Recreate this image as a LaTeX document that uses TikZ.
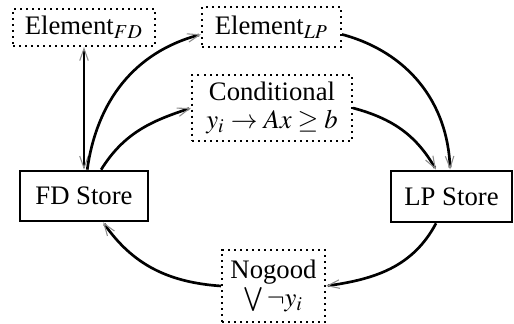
\documentclass[tikz,border=0pt]{standalone}
\usepackage{mathptmx}
\usepackage{fontspec}
\setmainfont{Liberation Serif}
\usetikzlibrary{arrows.meta}
\newlength\pxu
\setlength\pxu{0.3745pt}
\begin{document}
\begin{tikzpicture}[x=0.3745pt,y=-0.3745pt,
  font=\fontsize{10}{10.5}\selectfont,
  store/.style={draw, line width=1pt, inner sep=0pt},
  info/.style={draw, line width=0.75pt, dash pattern=on 0.75pt off 1.5pt, inner sep=0pt, align=center},
  tip/.style={-{Straight Barb[length=4.5pt,width=3.2pt,line width=0.4pt,color=black!45]}},
  link/.style={line width=1pt, tip}
]
\useasboundingbox (0,0) rectangle (514,323);
\node[store, minimum width=128\pxu, minimum height=50\pxu] (FD) at (84,196) {FD Store};
\node[store, minimum width=121\pxu, minimum height=51\pxu] (LP) at (451.5,196.5) {LP Store};
\node[info, minimum width=142\pxu, minimum height=37\pxu] (EFD) at (84,27.5) {Element$_{FD}$};
\node[info, minimum width=139\pxu, minimum height=40\pxu] (ELP) at (271.5,27) {Element$_{LP}$};
\node[info, minimum width=160\pxu, minimum height=66\pxu] (Cond) at (272,108) {Conditional\\$y_i \rightarrow Ax \geq b$};
\node[info, minimum width=103\pxu, minimum height=72\pxu] (NG) at (273.5,286) {Nogood\\$\bigvee \neg y_i$};

\draw[line width=1pt, {Straight Barb[length=4.5pt,width=3.2pt,line width=0.4pt,color=black!45]}-{Straight Barb[length=4.5pt,width=3.2pt,line width=0.4pt,color=black!45]}] (FD.north) -- (EFD.south);
\draw[link] (FD.83) to[out=82, in=195] (ELP.186);
\draw[link] (ELP.-6) to[out=-15, in=92] (LP.93);
\draw[link] (FD.57) to[out=58, in=198] (Cond.west);
\draw[link] (Cond.east) to[out=-15, in=120] (LP.120);
\draw[link] (LP.-120) to[out=-118, in=8] (NG.east);
\draw[link] (NG.west) to[out=176, in=-55] (FD.-54);
\end{tikzpicture}
\end{document}
